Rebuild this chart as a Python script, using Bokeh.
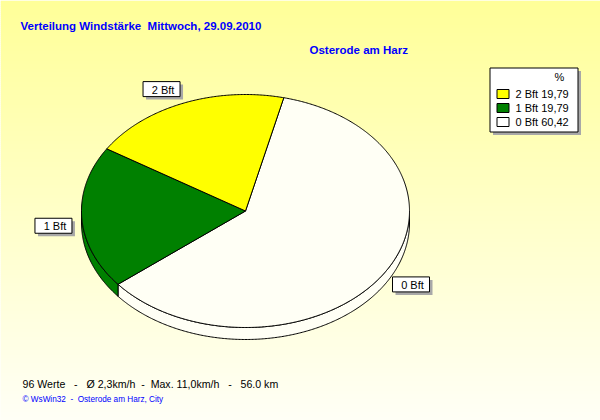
import re
import numpy as np
from bokeh.plotting import figure
from bokeh.models import Range1d
from bokeh.core.properties import value
from bokeh.embed import file_html
from bokeh.resources import INLINE

# ---------------- data ----------------
categories = ["0 Bft", "1 Bft", "2 Bft"]
percent = [60.42, 19.79, 19.79]
slice_colors = ["#FFFFF5", "#008000", "#FFFF00"]
legend_swatch = ["#FFFFFF", "#008000", "#FFFF00"]
title_text = "Verteilung Windstärke  Mittwoch, 29.09.2010"
location_text = "Osterode am Harz"
stats_text = "96 Werte   -   Ø 2,3km/h  -  Max. 11,0km/h   -   56.0 km"
credit_text = "© WsWin32  -  Osterode am Harz, City"
legend_unit = "%"


def keep_spaces(s):
    # SVG collapses runs of blanks: keep them visible with no-break spaces
    return re.sub(r" {2,}", lambda m: " " + "\u00a0" * (len(m.group(0)) - 1), s)


# ---------------- figure (data units = screenshot pixels) ----------------
W, H = 600, 420
p = figure(width=W, height=H, output_backend="svg", toolbar_location=None,
           x_range=Range1d(0, W), y_range=Range1d(H, 0),
           x_axis_location=None, y_axis_location=None, min_border=0)
p.grid.visible = False
p.outline_line_color = None
p.background_fill_color = "#FFFFF5"
p.border_fill_color = "#FFFFF5"

FONT = value("Liberation Sans")

# background gradient (light yellow -> almost white)
ys = np.arange(0, 424, 2)
frac = np.clip(ys / 420.0, 0, 1)
blue = (153 + (247 - 153) * frac).astype(int)
grad_cols = ["#FFFF%02X" % b for b in blue]
p.quad(left=0, right=600, top=ys, bottom=ys + 2.6, fill_color=grad_cols,
       line_color=None)

# ---------------- pie geometry ----------------
cx, cy, rx, ry, depth = 245.0, 210.5, 164.0, 116.5, 12.0
start_angle = 76.5  # degrees, slices run clockwise


def ell(t_deg, dy=0.0):
    t = np.radians(t_deg)
    return cx + rx * np.cos(t), cy - ry * np.sin(t) + dy


bounds = []
acc = start_angle
for pct in percent:
    a0 = acc
    a1 = acc - pct * 3.6
    bounds.append((a0, a1))
    acc = a1

# side walls (front half of the disc)
side_xs, side_ys, side_cols = [], [], []
for (a0, a1), col in zip(bounds, slice_colors):
    for k in (-1, 0, 1):
        lo = max(a1, -180 + 360 * k)
        hi = min(a0, 360 * k)
        if hi > lo:
            n = max(int((hi - lo) * 2), 3)
            t = np.linspace(hi, lo, n)
            xt, yt = ell(t)
            xb, yb = ell(t[::-1], depth)
            side_xs.append(list(np.concatenate([xt, xb])))
            side_ys.append(list(np.concatenate([yt, yb])))
            side_cols.append(col)
p.patches(side_xs, side_ys, fill_color=side_cols, line_color="black",
          line_width=1)

# top wedges
top_xs, top_ys = [], []
for (a0, a1) in bounds:
    n = max(int((a0 - a1) * 2), 3)
    t = np.linspace(a0, a1, n)
    xt, yt = ell(t)
    top_xs.append([cx] + list(xt))
    top_ys.append([cy] + list(yt))
p.patches(top_xs, top_ys, fill_color=slice_colors, line_color="black",
          line_width=1)

# ---------------- slice labels ----------------
bw, bh, sh = 37.0, 15.0, 3.0
lab_l, lab_r, lab_t, lab_b, lab_x, lab_y = [], [], [], [], [], []
for (a0, a1) in bounds:
    mid = (a0 + a1) / 2.0
    ax = cx + 1.06 * rx * np.cos(np.radians(mid))
    ay = cy - 1.06 * ry * np.sin(np.radians(mid))
    if np.cos(np.radians(mid)) < 0:
        l, r = ax - bw, ax
    else:
        l, r = ax, ax + bw
    if np.sin(np.radians(mid)) > 0:
        b, t = ay, ay - bh
    else:
        t, b = ay, ay + bh
    lab_l.append(l); lab_r.append(r); lab_t.append(t); lab_b.append(b)
    lab_x.append((l + r) / 2 + 1.5); lab_y.append((t + b) / 2 + 0.5)

p.quad(left=[v + sh for v in lab_l], right=[v + sh for v in lab_r],
       top=[v + sh for v in lab_t], bottom=[v + sh for v in lab_b],
       fill_color="#A8A8A8", line_color=None)
p.quad(left=lab_l, right=lab_r, top=lab_t, bottom=lab_b,
       fill_color="white", line_color="black", line_width=1)
p.text(x=lab_x, y=lab_y, text=categories, text_font=FONT,
       text_font_size="11px", text_align="center", text_baseline="middle",
       text_color="black")

# ---------------- legend ----------------
lg_l, lg_r, lg_t, lg_b = 489.5, 577.5, 67.5, 131.5
p.quad(left=lg_l + sh, right=lg_r + sh, top=lg_t + sh, bottom=lg_b + sh,
       fill_color="#A8A8A8", line_color=None)
p.quad(left=lg_l, right=lg_r, top=lg_t, bottom=lg_b, fill_color="white",
       line_color="black", line_width=1)
p.text(x=[559], y=[76.5], text=[legend_unit], text_font=FONT,
       text_font_size="11px", text_align="center", text_baseline="middle",
       text_color="black")

order = list(range(len(categories)))[::-1]
row_y = [93.5 + 14 * i for i in range(len(order))]
leg_labels = []
for i in order:
    leg_labels.append("%s %s" % (categories[i], ("%.2f" % percent[i]).replace(".", ",")))
p.quad(left=496.5, right=508.5, top=[y - 4.5 for y in row_y],
       bottom=[y + 4.5 for y in row_y], fill_color=[legend_swatch[i] for i in order],
       line_color="black", line_width=1)
p.text(x=515, y=row_y, text=leg_labels, text_font=FONT, text_font_size="11px",
       text_align="left", text_baseline="middle", text_color="black")

# ---------------- titles and footer ----------------
p.text(x=[20], y=[25], text=[keep_spaces(title_text)], text_font=FONT,
       text_font_size="11.5px", text_font_style="bold", text_align="left",
       text_baseline="middle", text_color="#0000FF")
p.text(x=[309], y=[49], text=[location_text], text_font=FONT,
       text_font_size="11.5px", text_font_style="bold", text_align="left",
       text_baseline="middle", text_color="#0000FF")
p.text(x=[22], y=[383], text=[keep_spaces(stats_text)], text_font=FONT,
       text_font_size="10.6px", text_align="left", text_baseline="middle",
       text_color="black")
p.text(x=[22], y=[399], text=[keep_spaces(credit_text)], text_font=FONT,
       text_font_size="8.2px", text_align="left", text_baseline="middle",
       text_color="#0000FF")

open("out.html", "w").write(file_html(p, INLINE))
